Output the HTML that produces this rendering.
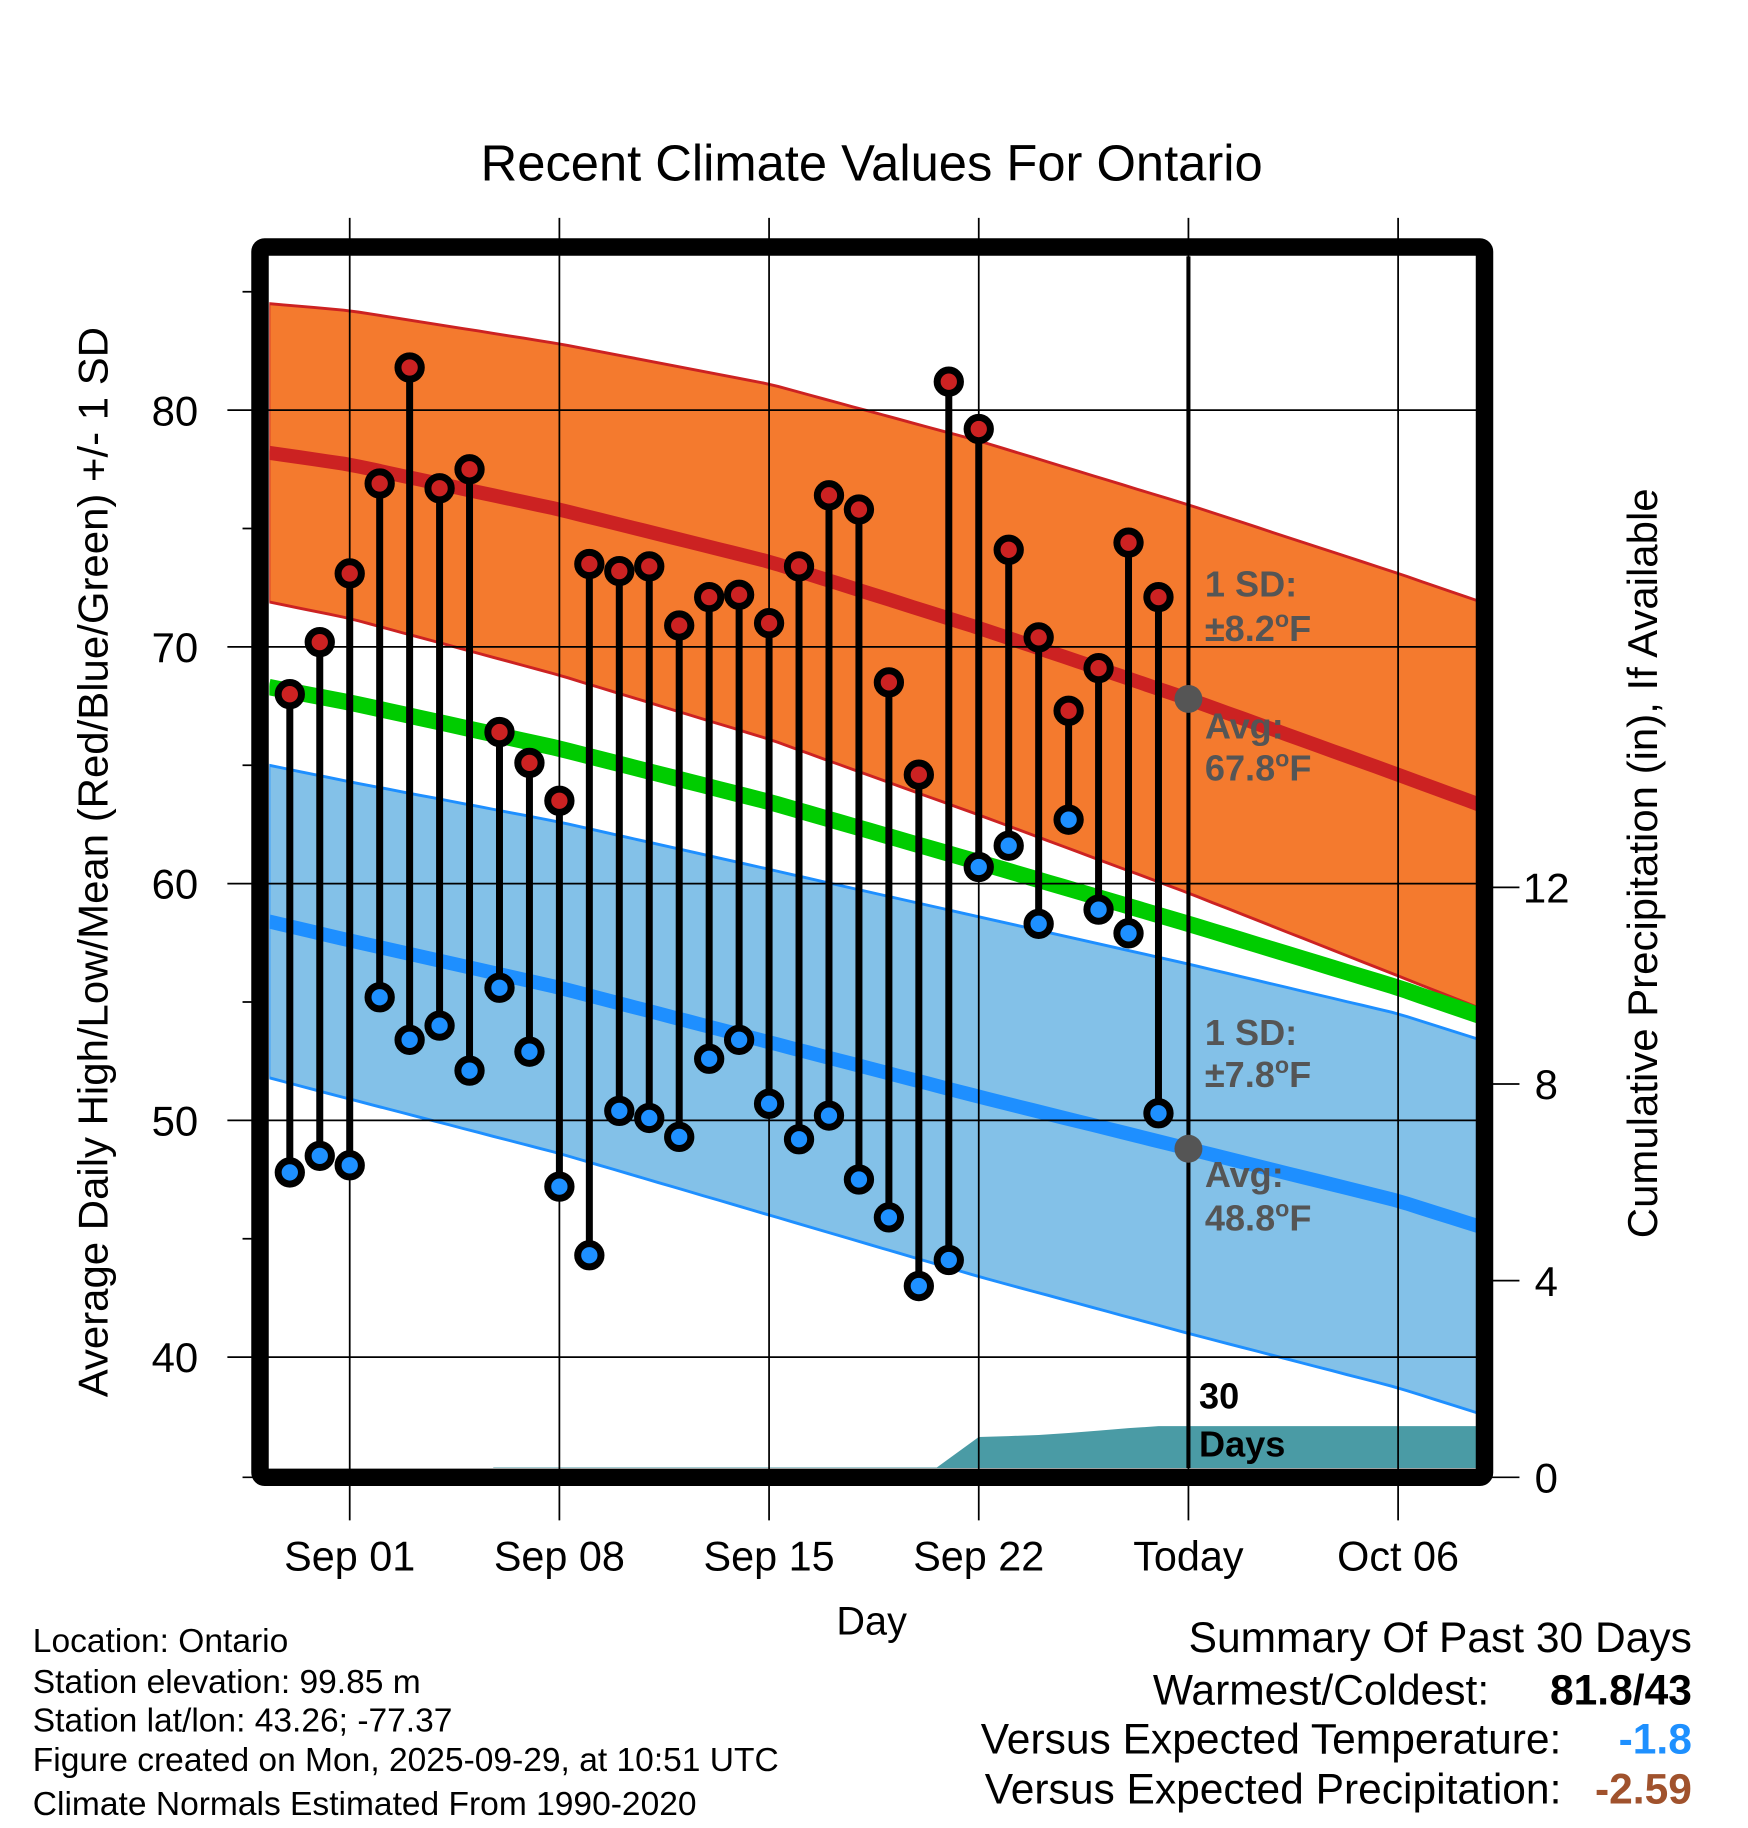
<!DOCTYPE html>
<html><head><meta charset="utf-8"><style>
html,body{margin:0;padding:0;background:#fff;}
svg{display:block;font-family:"Liberation Sans",Arial,sans-serif;}
</style></head><body>
<svg id="chart" width="1748" height="1828" viewBox="0 0 1500 1569" xmlns="http://www.w3.org/2000/svg">
<text x="748" y="155" font-size="43.5" text-anchor="middle">Recent Climate Values For Ontario</text>
<g id="plot"></g>
<text transform="translate(92,740) rotate(-90)" font-size="36" text-anchor="middle">Average Daily High/Low/Mean (Red/Blue/Green) +/- 1 SD</text>
<text transform="translate(1422,741) rotate(-90)" font-size="36" text-anchor="middle">Cumulative Precipitation (in), If Available</text>
<text x="748" y="1403" font-size="34" text-anchor="middle">Day</text>
<g font-size="28.8">
<text x="28" y="1418">Location: Ontario</text>
<text x="28" y="1453">Station elevation: 99.85 m</text>
<text x="28" y="1486">Station lat/lon: 43.26; -77.37</text>
<text x="28" y="1520">Figure created on Mon, 2025-09-29, at 10:51 UTC</text>
<text x="28" y="1558">Climate Normals Estimated From 1990-2020</text>
</g>
<g font-size="36.5">
<text x="1452" y="1418" text-anchor="end">Summary Of Past 30 Days</text>
<text x="1278" y="1463" text-anchor="end">Warmest/Coldest:</text>
<text x="1452" y="1463" text-anchor="end" font-weight="bold">81.8/43</text>
<text x="1340" y="1505" text-anchor="end">Versus Expected Temperature:</text>
<text x="1452" y="1505" text-anchor="end" font-weight="bold" fill="#1e90ff">-1.8</text>
<text x="1340" y="1548" text-anchor="end">Versus Expected Precipitation:</text>
<text x="1452" y="1548" text-anchor="end" font-weight="bold" fill="#a0522d">-2.59</text>
</g>
</svg>
<script>
// data
const dayNums=[-2,-1,0,1,2,3,4,5,6,7,8,9,10,11,12,13,14,15,16,17,18,19,20,21,22,23,24,25,26,27];
const highs=[68.0,70.2,73.1,76.9,81.8,76.7,77.5,66.4,65.1,63.5,73.5,73.2,73.4,70.9,72.1,72.2,71.0,73.4,76.4,75.8,68.5,64.6,81.2,79.2,74.1,70.4,67.3,69.1,74.4,72.1];
const lows=[47.8,48.5,48.1,55.2,53.4,54.0,52.1,55.6,52.9,47.2,44.3,50.4,50.1,49.3,52.6,53.4,50.7,49.2,50.2,47.5,45.9,43.0,44.1,60.7,61.6,58.3,62.7,58.9,57.9,50.3];
const normDays=[-2.7,0,7,14,21,28,35,38];
const highNorm=[78.2,77.7,75.8,73.6,70.8,67.8,64.6,63.2];
const highSD=[6.3,6.5,7.0,7.5,7.9,8.2,8.5,8.6];
const lowNorm=[58.4,57.6,55.6,53.3,51.0,48.8,46.6,45.4];
const lowSD=[6.6,6.7,7.0,7.3,7.6,7.8,7.9,7.9];
const precipDays=[-2.7,4.5,4.8,19.6,21,22,23,24,25,26,27,28,38];
const precipVals=[0,0,0.2,0.2,0.82,0.84,0.86,0.9,0.95,1.0,1.04,1.04,1.04];
const xTickDays=[0,7,14,21,28,35];
const xTickLabels=["Sep 01","Sep 08","Sep 15","Sep 22","Today","Oct 06"];
const yTicks=[40,50,60,70,80];
const yMinor=[45,55,65,75,85];
const pTicks=[0,4,8,12];
const todayDay=28;

const NS="http://www.w3.org/2000/svg";
const g=document.getElementById('plot');
const X=d=>300+d*25.71;
const Y=v=>352+(80-v)*20.32;
const P=p=>1268-p*42.2;
const L={x0:231,x1:1267,y0:220,y1:1260};
function el(tag,attrs,parent){const e=document.createElementNS(NS,tag);for(const k in attrs)e.setAttribute(k,attrs[k]);(parent||g).appendChild(e);return e;}
function interp(arr,d){for(let i=0;i<normDays.length-1;i++){if(d<=normDays[i+1]){const t=(d-normDays[i])/(normDays[i+1]-normDays[i]);return arr[i]+t*(arr[i+1]-arr[i]);}}return arr[arr.length-1];}
const samp=[];for(let d=-2.7;d<38;d+=0.5)samp.push(d);samp.push(38);
function line(fn){return samp.map((d,i)=>(i?'L':'M')+X(d).toFixed(1)+','+fn(d).toFixed(1)).join('');}
function band(fu,fl){return line(fu)+samp.slice().reverse().map(d=>'L'+X(d).toFixed(1)+','+fl(d).toFixed(1)).join('')+'Z';}
const hu=d=>Y(interp(highNorm,d)+interp(highSD,d)), hl=d=>Y(interp(highNorm,d)-interp(highSD,d));
const lu=d=>Y(interp(lowNorm,d)+interp(lowSD,d)), ll=d=>Y(interp(lowNorm,d)-interp(lowSD,d));

const clip=el('clipPath',{id:'pc'});el('rect',{x:L.x0,y:L.y0,width:L.x1-L.x0,height:L.y1-L.y0},clip);
const inner=el('g',{'clip-path':'url(#pc)'});

let e;
e=el('path',{d:band(lu,ll),fill:'#83c1e8',stroke:'#1e8fff','stroke-width':2.5},inner);

e=el('path',{d:band(hu,hl),fill:'#f47a2e',stroke:'#cc2222','stroke-width':2.5},inner);


// precip area
let pd='M'+X(precipDays[0])+','+P(0);
precipDays.forEach((d,i)=>{pd+='L'+X(d).toFixed(1)+','+P(precipVals[i]).toFixed(1);});
pd+='L'+X(precipDays[precipDays.length-1])+','+P(0)+'Z';
e=el('path',{d:pd,fill:'#4a9ba5'},inner);


// grid
xTickDays.forEach(d=>{e=el('line',{x1:X(d),x2:X(d),y1:187,y2:1305,stroke:'#000','stroke-width':1.5});
});
yTicks.forEach(v=>{e=el('line',{x1:195,x2:L.x1,y1:Y(v),y2:Y(v),stroke:'#000','stroke-width':1.5});
});
yMinor.forEach(v=>{el('line',{x1:208,x2:224,y1:Y(v),y2:Y(v),stroke:'#000','stroke-width':1.5});});
el('line',{x1:208,x2:224,y1:1268,y2:1268,stroke:'#000','stroke-width':1.5});

// normal lines
e=el('path',{d:line(d=>Y((interp(highNorm,d)+interp(lowNorm,d))/2)),fill:'none',stroke:'#00cc00','stroke-width':14},inner);

e=el('path',{d:line(d=>Y(interp(highNorm,d))),fill:'none',stroke:'#cc2222','stroke-width':12},inner);

e=el('path',{d:line(d=>Y(interp(lowNorm,d))),fill:'none',stroke:'#1e8fff','stroke-width':12},inner);


// stems and dots
dayNums.forEach((d,i)=>{
 e=el('line',{x1:X(d),x2:X(d),y1:Y(highs[i]),y2:Y(lows[i]),stroke:'#000','stroke-width':6});
 
});
dayNums.forEach((d,i)=>{
 e=el('circle',{cx:X(d),cy:Y(highs[i]),r:10,fill:'#cc2222',stroke:'#000','stroke-width':6});
 
 e=el('circle',{cx:X(d),cy:Y(lows[i]),r:10,fill:'#1e90ff',stroke:'#000','stroke-width':6});
 
});

// today
e=el('line',{x1:X(todayDay),x2:X(todayDay),y1:L.y0,y2:L.y1,stroke:'#000','stroke-width':3.5});

e=el('circle',{cx:X(todayDay),cy:Y(interp(highNorm,todayDay)),r:12,fill:'#555'});

e=el('circle',{cx:X(todayDay),cy:Y(interp(lowNorm,todayDay)),r:12,fill:'#555'});


// annotations
const ann=[["1 SD:","",512],["±8.2","F",550],["Avg:","",634],["67.8","F",670],["1 SD:","",897],["±7.8","F",933],["Avg:","",1019],["48.8","F",1056]];
ann.forEach(a=>{e=el('text',{x:1034,y:a[2],'font-size':31,'font-weight':'bold',fill:'#555'});
 if(a[1]){e.appendChild(document.createTextNode(a[0]));const s=el('tspan',{'font-size':20,dy:-12},e);s.textContent='o';const f=el('tspan',{dy:12},e);f.textContent='F';}
 else e.textContent=a[0];
});
[["30",1209],["Days",1250]].forEach(a=>{e=el('text',{x:1029,y:a[1],'font-size':31,'font-weight':'bold',fill:'#000'});e.textContent=a[0];
});

// frame
e=el('rect',{x:223,y:212,width:1051,height:1056,fill:'none',stroke:'#000','stroke-width':15,rx:4});


// tick labels
yTicks.forEach(v=>{e=el('text',{x:170,y:Y(v)+13,'font-size':36,'text-anchor':'end'});e.textContent=v;
});
xTickDays.forEach((d,i)=>{e=el('text',{x:X(d),y:1348,'font-size':35.5,'text-anchor':'middle'});e.textContent=xTickLabels[i];
});
pTicks.forEach(p=>{el('line',{x1:1275,x2:1304,y1:P(p),y2:P(p),stroke:'#000','stroke-width':1.5});
e=el('text',{x:1327,y:P(p)+13,'font-size':36,'text-anchor':'middle'});e.textContent=p;
});
</script>
</body></html>
